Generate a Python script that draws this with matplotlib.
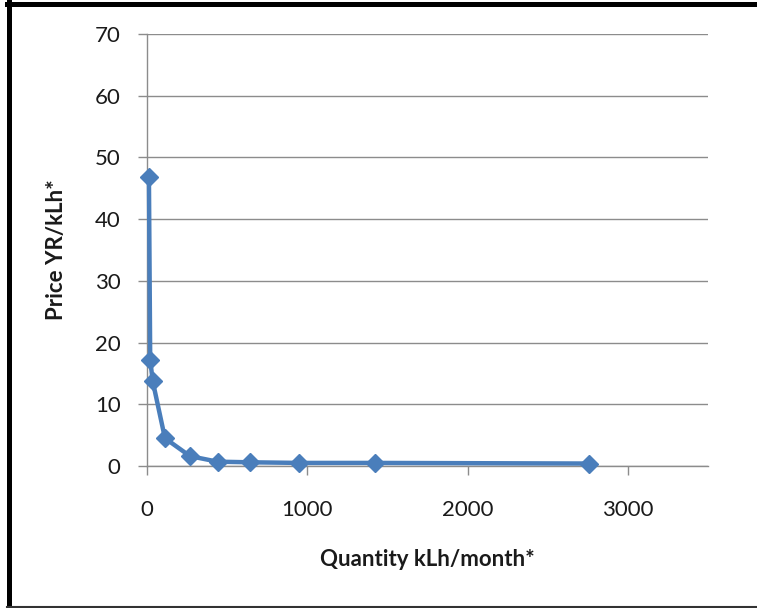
import matplotlib
matplotlib.use("Agg")
import matplotlib.pyplot as plt
from matplotlib.lines import Line2D

# Monthly quantity (kLh) and unit price (YR/kLh)
quantity = [12, 20, 36, 112, 268, 440, 643, 950, 1420, 2760]
price = [46.8, 17.2, 13.7, 4.5, 1.6, 0.7, 0.6, 0.5, 0.5, 0.4]

x_ticks = [0, 1000, 2000, 3000]
y_ticks = [0, 10, 20, 30, 40, 50, 60, 70]

plt.rcParams['font.family'] = ['Lato', 'DejaVu Sans']

W, H = 757, 608
fig = plt.figure(figsize=(W / 100, H / 100), dpi=100)
fig.patch.set_facecolor('white')

x0, x1, y_top, y_bot = 147, 708, 34, 466
ax = fig.add_axes([x0 / W, 1 - y_bot / H, (x1 - x0) / W, (y_bot - y_top) / H])
ax.set_xlim(0, 3500)
ax.set_ylim(0, 70)
ax.set_xticks(x_ticks)
ax.set_yticks(y_ticks)

grid_c = '#8c8c8c'
ax.grid(axis='y', color=grid_c, linewidth=1.0)
ax.set_axisbelow(True)
for s in ('top', 'right'):
    ax.spines[s].set_visible(False)
for s in ('left', 'bottom'):
    ax.spines[s].set_color(grid_c)
    ax.spines[s].set_linewidth(1.0)
ax.tick_params(axis='both', direction='out', length=6.5, width=1, color=grid_c,
               labelsize=16, labelcolor='#1a1a1a')
ax.tick_params(axis='x', pad=18)
ax.tick_params(axis='y', pad=12.5)

ax.plot(quantity, price, color='#4a7ebb', linewidth=3.2, marker='D',
        markersize=9.5, markerfacecolor='#4a7ebb', markeredgecolor='#4a7ebb',
        clip_on=False, zorder=3)

fig.text(427 / W, 1 - 559 / H, 'Quantity kLh/month*', ha='center', va='center',
         fontsize=16, fontweight='bold', color='#1a1a1a')
fig.text(56 / W, 1 - 250 / H, 'Price YR/kLh*', ha='center', va='center',
         rotation=90, fontsize=16, fontweight='bold', color='#1a1a1a')

# Outer frame: heavy left and top edges, thin bottom edge
fig.add_artist(Line2D([9.2 / W, 9.2 / W], [0, 1 - 1.7 / H], transform=fig.transFigure,
                      color='black', linewidth=3.6))
fig.add_artist(Line2D([7 / W, 1], [1 - 4.2 / H, 1 - 4.2 / H], transform=fig.transFigure,
                      color='black', linewidth=3.6))
fig.add_artist(Line2D([7 / W, 1], [1.0 / H, 1.0 / H], transform=fig.transFigure,
                      color='#333333', linewidth=1.5))

fig.savefig('out.png', dpi=100, facecolor='white')
